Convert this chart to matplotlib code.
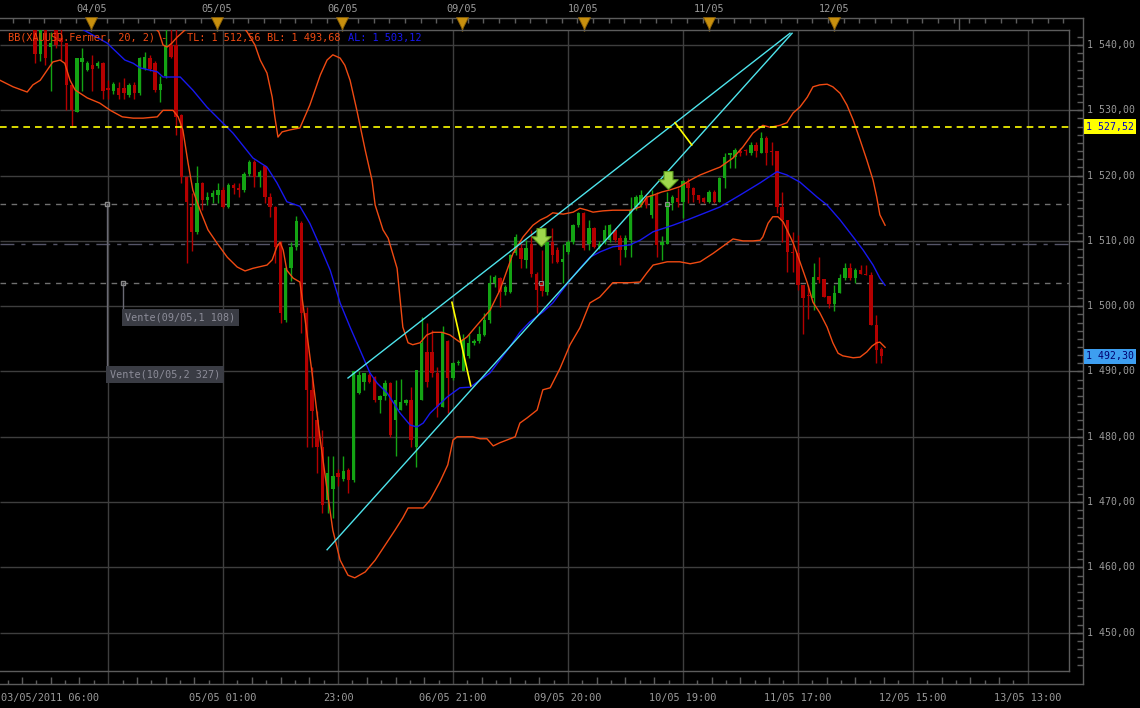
import numpy as np
import matplotlib
matplotlib.use("Agg")
import matplotlib.pyplot as plt
from matplotlib.path import Path

# hourly XAUUSD bars, candle index 0 = 03/05/2011 06:00 (bars before 7 are above the visible range)
first_idx = 7
opens = [
    1544.0, 1538.7, 1543.5, 1539.7, 1543.0, 1541.0, 1540.3, 1533.9, 1529.8, 1537.4,
    1536.2, 1537.0, 1536.8, 1537.2, 1533.4, 1532.9, 1533.4, 1533.4, 1532.3, 1533.9,
    1532.6, 1536.4, 1538.0, 1537.2, 1533.1, 1535.2, 1540.0, 1540.0, 1529.3, 1519.8,
    1515.2, 1511.4, 1518.8, 1516.3, 1516.8, 1517.0, 1517.8, 1515.2, 1518.6, 1518.1,
    1517.8, 1520.3, 1522.1, 1519.8, 1521.4, 1516.8, 1515.2, 1509.6, 1497.9, 1505.8,
    1509.0, 1512.7, 1498.9, 1487.2, 1482.6, 1478.5, 1470.3, 1472.0, 1474.4, 1473.6,
    1474.9, 1473.4, 1486.7, 1488.4, 1489.5, 1489.2, 1485.6, 1486.2, 1488.2, 1482.6,
    1484.1, 1485.1, 1485.6, 1478.5, 1485.6, 1493.0, 1493.0, 1489.7, 1484.6, 1494.6,
    1489.0, 1491.3, 1490.0, 1492.3, 1494.3, 1494.6, 1495.6, 1497.9, 1503.5, 1504.3,
    1502.2, 1502.2, 1508.1, 1508.9, 1507.1, 1509.6, 1505.0, 1503.5, 1502.2, 1509.9,
    1508.6, 1506.8, 1508.3, 1509.9, 1512.4, 1514.2, 1509.6, 1511.9, 1509.1, 1509.9,
    1510.1, 1511.7, 1510.4, 1508.6, 1510.1, 1515.2, 1515.5, 1516.5, 1514.0, 1517.0,
    1509.4, 1509.6, 1515.8, 1516.5, 1516.0, 1518.8, 1518.1, 1517.0, 1516.5, 1516.0,
    1517.5, 1516.0, 1519.6, 1523.2, 1522.9, 1523.8, 1523.9, 1523.4, 1524.7, 1523.4,
    1525.7, 1523.8, 1523.7, 1515.2, 1513.2, 1508.3, 1508.1, 1503.2, 1501.7, 1501.2,
    1504.5, 1504.1, 1501.5, 1500.4, 1502.0, 1504.3, 1505.8, 1504.3, 1505.6, 1505.0,
    1504.8, 1497.1, 1493.4]
highs = [
    1545.0, 1545.0, 1545.0, 1542.0, 1544.0, 1543.0, 1540.3, 1534.0, 1538.0, 1539.5,
    1537.5, 1538.5, 1537.5, 1537.4, 1534.6, 1534.3, 1534.4, 1534.9, 1534.2, 1534.4,
    1538.2, 1539.0, 1538.5, 1537.5, 1535.2, 1543.0, 1543.0, 1542.5, 1529.5, 1520.0,
    1517.3, 1521.4, 1519.0, 1517.5, 1517.8, 1518.8, 1518.2, 1518.8, 1518.8, 1518.8,
    1520.5, 1522.4, 1522.4, 1520.8, 1521.6, 1517.3, 1515.4, 1510.0, 1506.0, 1509.8,
    1513.8, 1513.0, 1499.9, 1490.7, 1484.0, 1481.0, 1477.0, 1477.0, 1475.0, 1477.0,
    1475.2, 1490.0, 1490.0, 1489.8, 1489.7, 1489.3, 1486.4, 1488.7, 1488.4, 1488.7,
    1488.9, 1485.8, 1487.7, 1490.2, 1498.4, 1497.4, 1496.4, 1490.7, 1496.9, 1494.8,
    1491.5, 1491.7, 1495.8, 1495.8, 1495.0, 1496.9, 1498.9, 1504.8, 1504.8, 1504.5,
    1503.2, 1508.0, 1511.1, 1509.6, 1510.1, 1511.6, 1505.2, 1508.6, 1509.9, 1511.9,
    1509.0, 1509.6, 1510.1, 1512.6, 1514.4, 1514.4, 1513.2, 1512.2, 1510.0, 1512.4,
    1512.6, 1512.0, 1510.9, 1510.9, 1516.8, 1517.0, 1517.8, 1517.0, 1517.8, 1517.5,
    1510.7, 1517.5, 1517.0, 1518.1, 1519.3, 1519.6, 1518.3, 1517.0, 1516.8, 1517.8,
    1517.8, 1519.8, 1523.4, 1523.4, 1524.2, 1524.2, 1524.0, 1525.2, 1525.2, 1526.7,
    1526.0, 1525.2, 1523.7, 1517.5, 1513.2, 1511.4, 1510.9, 1503.2, 1503.2, 1506.6,
    1507.6, 1504.1, 1501.5, 1503.2, 1505.0, 1506.6, 1506.6, 1505.8, 1506.3, 1506.3,
    1505.3, 1498.6, 1493.8]
lows = [
    1537.2, 1537.5, 1537.0, 1532.9, 1539.5, 1537.7, 1530.0, 1527.5, 1529.8, 1532.9,
    1536.0, 1532.9, 1536.5, 1531.8, 1531.8, 1532.5, 1531.8, 1531.8, 1532.0, 1531.8,
    1532.3, 1536.2, 1536.0, 1532.8, 1531.3, 1535.0, 1538.0, 1526.2, 1518.8, 1506.6,
    1508.4, 1511.0, 1514.7, 1515.5, 1515.8, 1515.8, 1515.0, 1515.0, 1517.2, 1516.8,
    1517.5, 1520.0, 1518.3, 1518.3, 1515.8, 1513.7, 1506.6, 1497.4, 1497.6, 1503.8,
    1508.6, 1495.9, 1478.5, 1478.5, 1474.4, 1468.3, 1468.3, 1467.5, 1472.5, 1473.3,
    1471.4, 1473.0, 1486.5, 1487.2, 1488.2, 1485.4, 1483.6, 1485.6, 1480.0, 1477.0,
    1484.1, 1484.8, 1478.5, 1475.4, 1485.6, 1487.7, 1489.2, 1483.1, 1484.6, 1483.6,
    1488.7, 1491.0, 1490.0, 1492.0, 1494.0, 1494.3, 1495.4, 1497.4, 1503.0, 1499.9,
    1501.7, 1502.0, 1507.8, 1505.8, 1505.8, 1504.5, 1498.9, 1501.5, 1501.7, 1506.6,
    1506.6, 1503.5, 1508.0, 1509.6, 1512.2, 1508.6, 1508.6, 1508.9, 1508.8, 1509.6,
    1509.9, 1509.9, 1506.3, 1507.6, 1507.6, 1514.7, 1515.2, 1515.0, 1513.5, 1507.6,
    1507.1, 1509.6, 1514.7, 1515.2, 1513.5, 1515.8, 1516.0, 1515.8, 1515.8, 1515.8,
    1515.8, 1516.0, 1518.1, 1521.1, 1521.1, 1523.0, 1523.2, 1523.2, 1522.9, 1523.4,
    1521.6, 1521.6, 1514.2, 1509.9, 1505.3, 1505.3, 1502.5, 1495.8, 1498.1, 1499.4,
    1503.5, 1501.4, 1499.7, 1499.2, 1502.0, 1504.0, 1504.0, 1503.5, 1504.9, 1504.8,
    1497.1, 1491.3, 1491.3]
closes = [
    1538.7, 1543.5, 1538.0, 1540.3, 1540.0, 1540.5, 1533.9, 1530.0, 1538.0, 1538.0,
    1537.2, 1536.3, 1537.3, 1532.9, 1533.1, 1534.1, 1532.3, 1532.6, 1533.9, 1532.6,
    1538.0, 1538.2, 1536.4, 1533.1, 1534.1, 1540.0, 1538.2, 1529.0, 1519.8, 1516.0,
    1511.4, 1518.8, 1516.3, 1516.8, 1517.3, 1517.8, 1515.2, 1518.6, 1518.1, 1517.8,
    1520.3, 1522.1, 1519.8, 1520.6, 1516.8, 1515.2, 1509.1, 1498.9, 1505.8, 1509.0,
    1513.0, 1498.9, 1487.2, 1484.0, 1478.5, 1469.6, 1474.4, 1474.0, 1473.9, 1474.7,
    1473.4, 1490.0, 1489.5, 1489.7, 1488.4, 1485.6, 1486.2, 1488.2, 1480.3, 1485.6,
    1485.4, 1485.6, 1479.5, 1490.2, 1494.3, 1488.4, 1489.7, 1484.6, 1496.1, 1489.0,
    1491.3, 1491.5, 1495.0, 1494.3, 1494.6, 1495.8, 1497.9, 1503.5, 1504.5, 1502.2,
    1503.0, 1507.8, 1510.6, 1507.3, 1508.9, 1505.0, 1502.5, 1502.3, 1509.9, 1507.8,
    1506.8, 1507.3, 1509.9, 1512.4, 1514.2, 1508.9, 1511.9, 1509.1, 1509.6, 1511.7,
    1512.4, 1510.1, 1508.6, 1510.4, 1514.7, 1516.8, 1517.0, 1515.5, 1517.0, 1509.4,
    1509.9, 1516.0, 1516.8, 1516.0, 1519.1, 1518.1, 1517.0, 1516.3, 1516.0, 1517.5,
    1516.0, 1519.6, 1522.9, 1523.4, 1523.9, 1523.5, 1523.7, 1524.7, 1523.7, 1525.7,
    1523.4, 1523.6, 1515.2, 1513.2, 1508.3, 1508.1, 1503.2, 1501.2, 1501.5, 1504.5,
    1504.0, 1501.4, 1500.4, 1502.0, 1504.3, 1505.8, 1504.3, 1505.6, 1504.9, 1504.8,
    1497.1, 1493.3, 1492.3]

# Bollinger bands (20, 2) as (candle index, price)
bb_top_left_x = [30.0, 30.7, 31.5, 32.3, 33.2, 34.2, 35.3, 36.1]
bb_top_left_y = [1542.6, 1542.0, 1540.0, 1539.7, 1540.3, 1541.2, 1542.0, 1542.6]
bb_top_x = [47.0, 47.6, 49.1, 50.1, 51.4, 52.4, 52.9, 53.5, 54.3, 55.8, 57.7, 59.6, 61.6, 62.9,
            64.0, 65.4, 66.3, 67.3, 68.6, 70.2, 71.5, 72.1, 73.6, 74.6, 76.3, 77.4, 78.4, 79.3,
            80.7, 82.0, 83.2, 84.9, 86.4, 88.3, 89.7, 91.6, 94.1, 96.0, 98.5, 100.4, 102.3, 103.7,
            105.0, 106.1, 108.1, 110.0, 111.3, 112.7, 113.8, 115.7, 117.6, 120.9, 122.8, 124.1,
            125.3, 127.0, 128.5, 130.4, 132.4, 134.3, 136.8, 138.1, 140.6, 142.5, 144.4, 146.3,
            147.7, 149.6, 150.9, 152.1, 153.4, 154.8, 155.9, 157.2, 158.6, 159.7, 161.1, 162.4,
            163.6, 164.9, 166.2, 167.4, 168.1, 168.7, 169.7]
bb_top_y = [1542.6, 1542.0, 1540.0, 1537.7, 1535.7, 1532.0, 1529.0, 1525.9, 1526.7, 1527.0,
            1527.3, 1530.8, 1535.4, 1537.7, 1538.5, 1538.0, 1536.9, 1534.6, 1530.0, 1523.9,
            1519.3, 1515.5, 1511.7, 1510.4, 1505.8, 1496.8, 1494.4, 1494.1, 1494.4, 1495.6,
            1496.0, 1496.0, 1495.6, 1494.5, 1495.3, 1497.1, 1499.4, 1502.5, 1508.1, 1510.6,
            1512.4, 1513.2, 1513.7, 1514.3, 1514.1, 1514.4, 1515.0, 1514.7, 1514.4, 1514.6,
            1514.7, 1514.7, 1515.2, 1516.7, 1517.0, 1517.5, 1517.8, 1518.3, 1519.3, 1520.1,
            1520.9, 1521.3, 1522.7, 1524.4, 1526.5, 1527.7, 1527.4, 1527.7, 1528.1, 1529.6,
            1530.5, 1532.0, 1533.6, 1533.9, 1534.0, 1533.6, 1532.6, 1530.8, 1528.5, 1525.5,
            1522.4, 1519.3, 1516.7, 1514.0, 1512.4]
bb_mid_x = [15.6, 17.0, 20.8, 24.2, 25.8, 27.1, 30.4, 31.5, 34.8, 37.2, 39.9, 44.9, 48.7, 51.4,
            53.3, 55.2, 57.7, 59.6, 61.6, 63.5, 65.4, 67.3, 69.2, 71.1, 72.5, 74.4, 76.9, 78.8,
            80.1, 81.3, 82.6, 83.9, 85.9, 88.3, 90.3, 92.2, 94.1, 96.0, 97.9, 99.8, 101.7, 104.2,
            106.1, 107.5, 109.4, 111.3, 113.2, 115.1, 117.6, 120.9, 122.8, 125.3, 129.1, 131.8,
            135.6, 138.1, 141.9, 145.8, 149.0, 150.9, 153.4, 156.7, 158.6, 161.1, 163.6, 165.5,
            167.4, 168.7, 169.7]
bb_mid_y = [1542.6, 1542.0, 1540.3, 1537.7, 1537.2, 1536.5, 1535.9, 1535.1, 1535.1, 1533.1,
            1530.5, 1526.5, 1522.7, 1521.3, 1518.9, 1516.0, 1515.3, 1512.7, 1509.1, 1505.5,
            1500.5, 1496.8, 1493.3, 1489.8, 1488.2, 1486.7, 1483.6, 1481.8, 1481.5, 1482.1,
            1483.6, 1484.6, 1486.1, 1487.5, 1487.6, 1488.7, 1489.8, 1491.8, 1493.8, 1496.0,
            1497.6, 1499.1, 1500.5, 1502.0, 1504.0, 1505.8, 1507.5, 1508.3, 1509.1, 1509.4,
            1510.1, 1511.4, 1512.4, 1513.2, 1514.4, 1515.2, 1517.0, 1518.9, 1520.6, 1520.1,
            1519.0, 1516.7, 1515.5, 1513.2, 1510.6, 1508.6, 1506.3, 1504.3, 1503.2]
bb_low_x = [0.3, 2.8, 5.5, 6.6, 8.0, 10.4, 11.8, 12.7, 13.7, 14.7, 17.0, 19.4, 21.4, 23.7, 25.8,
            27.7, 30.4, 31.5, 33.4, 34.4, 35.3, 36.3, 37.2, 38.6, 40.1, 41.8, 43.8, 45.7, 47.2,
            48.7, 51.4, 52.4, 53.3, 53.9, 54.5, 55.2, 56.4, 57.7, 58.7, 60.2, 61.6, 62.9, 64.0,
            65.4, 66.9, 68.2, 70.2, 72.1, 74.0, 75.9, 77.4, 78.4, 81.3, 82.6, 84.5, 86.0, 87.0,
            87.8, 90.8, 92.2, 93.5, 94.7, 96.0, 97.3, 98.9, 99.8, 101.2, 103.1, 104.2, 105.6,
            107.5, 109.4, 111.3, 113.2, 115.1, 117.6, 120.9, 122.8, 124.1, 125.3, 128.0, 130.4,
            132.4, 134.3, 136.8, 138.7, 140.6, 142.5, 144.4, 145.8, 146.3, 147.3, 148.2, 149.2,
            150.2, 151.1, 152.1, 153.4, 154.8, 155.9, 157.2, 158.6, 159.7, 160.7, 161.6, 163.6,
            164.9, 166.2, 167.2, 168.1, 168.7, 169.7]
bb_low_y = [1534.6, 1533.6, 1532.8, 1533.9, 1534.6, 1537.4, 1537.7, 1537.2, 1534.6, 1533.1,
            1531.9, 1531.1, 1530.0, 1529.0, 1528.8, 1528.8, 1529.0, 1530.0, 1530.0, 1529.0,
            1527.0, 1521.9, 1517.8, 1514.7, 1511.7, 1509.7, 1507.5, 1506.0, 1505.4, 1505.8,
            1506.3, 1507.1, 1509.1, 1509.8, 1508.6, 1505.5, 1504.3, 1503.7, 1497.9, 1488.7,
            1479.5, 1471.9, 1465.7, 1461.1, 1458.8, 1458.4, 1459.3, 1461.1, 1463.4, 1465.7,
            1467.6, 1469.1, 1469.1, 1470.3, 1473.1, 1475.7, 1479.5, 1480.0, 1480.0, 1479.7,
            1479.7, 1478.6, 1479.1, 1479.5, 1480.0, 1482.1, 1482.9, 1484.1, 1487.2, 1487.5,
            1490.5, 1494.1, 1496.7, 1500.5, 1501.4, 1503.6, 1503.6, 1503.7, 1505.1, 1506.3,
            1506.8, 1506.8, 1506.5, 1506.8, 1508.1, 1509.2, 1510.3, 1510.0, 1510.0, 1510.1,
            1510.6, 1512.7, 1513.7, 1513.7, 1512.9, 1511.4, 1509.7, 1506.8, 1503.6, 1500.6,
            1499.0, 1496.8, 1494.4, 1492.8, 1492.4, 1492.1, 1492.2, 1493.0, 1493.9, 1494.4,
            1494.5, 1493.7]
bb_tl, bb_bl, bb_al = 1512.56, 1493.68, 1503.12

# drawn objects: channel, yellow segments, sell signals, orders
chan_up_x, chan_up_y = [66.9, 151.5], [1489.0, 1541.8]
chan_lo_x, chan_lo_y = [62.9, 151.9], [1462.7, 1541.8]
yel_a_x, yel_a_y = [86.8, 90.4], [1500.6, 1487.8]
yel_b_x, yel_b_y = [129.5, 132.7], [1528.1, 1524.7]
signal_x, signal_y = [103.8, 128.1], [1510.6, 1519.3]
signal_dot_x, signal_dot_y = [103.8, 128.0], [1503.55, 1515.65]
take_profit = 1527.52
last_price = 1492.30
order_lines = [1515.65, 1509.50, 1503.55]
order_x = [20.8, 23.8]
order_y = [1515.65, 1503.55]
order_box_y = [1489.6, 1498.2]
order_text = ["Vente(10/05,2 327)", "Vente(09/05,1 108)"]

# axis labels
price_ticks = list(range(1450, 1541, 10))
grid_idx = [21, 43, 65, 87, 109, 131, 153, 175, 197]
grid_labels = ["", "05/05 01:00", "23:00", "06/05 21:00", "09/05 20:00",
               "10/05 19:00", "11/05 17:00", "12/05 15:00", "13/05 13:00"]
first_label = "03/05/2011 06:00"
day_idx = [17.8, 41.8, 65.8, 88.7, 112.0, 136.0, 159.9]
day_labels = ["04/05", "05/05", "06/05", "09/05", "10/05", "11/05", "12/05"]
next_day_idx = 183.8

ORANGE = "#f04a12"
BLUE = "#1818f0"
GREEN = "#14a414"
RED = "#b40000"
GRID = "#3e3e3e"
FRAME = "#5c5c5c"
TXT = "#9a9a9a"
MONO = "DejaVu Sans Mono"

W, H = 1140, 708
PL, PR, PT, PB = 0, 1069, 30, 671
fig = plt.figure(figsize=(W / 100, H / 100), dpi=100, facecolor="black")
ax = fig.add_axes([PL / W, 1 - PB / H, (PR - PL) / W, (PB - PT) / H], facecolor="black")
ax.set_xlim(0.3, 204.9)
ax.set_ylim(1444.13, 1542.30)
ax.set_xticks([])
ax.set_yticks([])
for s in ["top", "right", "bottom"]:
    ax.spines[s].set_color(FRAME)
    ax.spines[s].set_linewidth(1)
ax.spines["left"].set_visible(False)


def axx(px):
    return (px - PL) / (PR - PL)


def axy(py):
    return (PB - py) / (PB - PT)


def fr(v):
    return f"{v:,.2f}".replace(",", " ").replace(".", ",")


xt = ax.get_xaxis_transform()
yt = ax.get_yaxis_transform()

# grid
ax.hlines(price_ticks, 0.3, 204.9, color=GRID, lw=1, zorder=1)
ax.vlines(grid_idx, axy(684), 1, transform=xt, color=GRID, lw=1, zorder=1, clip_on=False)

# order / target lines
ax.axhline(order_lines[0], color="#707070", lw=1, ls=(0, (4, 4)), zorder=2)
ax.axhline(order_lines[1], color="#555568", lw=1, ls=(0, (10, 5, 3, 5)), zorder=2)
ax.axhline(order_lines[2], color="#707070", lw=1, ls=(0, (4, 4)), zorder=2)
ax.axhline(take_profit, color="#ffff00", lw=1.2, ls=(0, (4, 3)), zorder=6)

# candles
idx = np.arange(first_idx, first_idx + len(opens))
o, h, l, c = map(np.array, (opens, highs, lows, closes))
col = np.where(c >= o, GREEN, RED)
ax.vlines(idx, l, h, colors=col, lw=1, zorder=3)
ax.bar(idx, np.maximum(np.abs(c - o), 0.15), bottom=np.minimum(o, c), width=0.65,
       color=col, lw=0, zorder=3)

# bollinger bands
ax.plot(bb_top_left_x, bb_top_left_y, color=ORANGE, lw=1, zorder=4)
ax.plot(bb_top_x, bb_top_y, color=ORANGE, lw=1, zorder=4)
ax.plot(bb_low_x, bb_low_y, color=ORANGE, lw=1, zorder=4)
ax.plot(bb_mid_x, bb_mid_y, color=BLUE, lw=1, zorder=4)

# channel and yellow segments
ax.plot(chan_up_x, chan_up_y, color="#4ee4ec", lw=1, zorder=5)
ax.plot(chan_lo_x, chan_lo_y, color="#4ee4ec", lw=1, zorder=5)
ax.plot(yel_a_x, yel_a_y, color="#ffff00", lw=1.2, zorder=5)
ax.plot(yel_b_x, yel_b_y, color="#ffff00", lw=1.2, zorder=5)

# sell signal arrows
arrow = Path([(-0.3, 0.6), (0.3, 0.6), (0.3, 0.05), (0.65, 0.05), (0.0, -0.6),
              (-0.65, 0.05), (-0.3, 0.05), (-0.3, 0.6)], closed=True)
ax.plot(signal_x, signal_y, ls="none", marker=arrow, markersize=14,
        mfc="#9ed84c", mec="#5c9a1c", mew=0.8, zorder=7)
ax.plot(signal_dot_x, signal_dot_y, ls="none", marker="s", markersize=3,
        mfc="none", mec="#8a8a8a", mew=0.8, zorder=6)

# orders with their labels
for ox, oy, by, txt in zip(order_x, order_y, order_box_y, order_text):
    ax.plot([ox, ox], [oy, by], color="#6a6a74", lw=1, zorder=6)
    ax.plot([ox], [oy], ls="none", marker="s", markersize=3, mfc="none", mec="#8a8a8a", zorder=6)
    ax.text(ox + 0.5, by, txt, family=MONO, fontsize=7.3, color="#8c8c98", va="center",
            ha="left", zorder=8,
            bbox=dict(boxstyle="square,pad=0.35", fc="#3a3c44", ec="none"))

# indicator legend
legend_parts = [("BB(XAUUSD.Fermer, 20, 2) -", 8, ORANGE), ("TL: " + fr(bb_tl), 187, ORANGE),
                ("BL: " + fr(bb_bl), 267, ORANGE), ("AL: " + fr(bb_al), 348, BLUE)]
for txt, px, cl in legend_parts:
    ax.text(axx(px), axy(38), txt, transform=ax.transAxes, family=MONO, fontsize=7.4,
            color=cl, va="center", ha="left", zorder=9)

# right price axis
ax.plot([axx(1083), axx(1083)], [axy(18), axy(684)], transform=ax.transAxes,
        color=FRAME, lw=1, clip_on=False)
minor = np.arange(1445.0, 1542.3, 1.25)
ax.hlines(minor, axx(1077), axx(1083), transform=yt, color=FRAME, lw=1, clip_on=False)
ax.hlines(price_ticks, axx(PR), axx(1083), transform=yt, color=FRAME, lw=1, clip_on=False)
for v in price_ticks:
    ax.text(axx(1087), v, fr(v), transform=yt, family=MONO, fontsize=7.1, color=TXT,
            va="center", ha="left")
for v, fc, tc in [(take_profit, "#ffff00", "#0000c8"), (last_price, "#3d9ef0", "#00006e")]:
    ax.text(axx(1086), v, fr(v), transform=yt, family=MONO, fontsize=7.1, color=tc,
            va="center", ha="left", zorder=10,
            bbox=dict(boxstyle="square,pad=0.25", fc=fc, ec="none"))

# bottom time axis
ax.plot([0, axx(1083)], [axy(684), axy(684)], transform=ax.transAxes, color=FRAME, lw=1,
        clip_on=False)
for k, g in enumerate(grid_idx[:-1]):
    for j in range(1, 8):
        tx = g + j * (grid_idx[1] - grid_idx[0]) / 8
        ax.vlines(tx, axy(684), axy(680 if j % 2 else 677), transform=xt, color=FRAME,
                  lw=1, clip_on=False)
for j in range(1, 8):
    tx = grid_idx[0] - j * 22 / 8
    ax.vlines(tx, axy(684), axy(680 if j % 2 else 677), transform=xt, color=FRAME,
              lw=1, clip_on=False)
ax.text(axx(1), axy(698), first_label, transform=ax.transAxes, family=MONO, fontsize=7.4,
        color=TXT, va="center", ha="left")
for g, lab in zip(grid_idx, grid_labels):
    if lab:
        ax.text(g, axy(698), lab, transform=xt, family=MONO, fontsize=7.4, color=TXT,
                va="center", ha="center")

# top day axis
ax.plot([0, axx(1083)], [axy(18), axy(18)], transform=ax.transAxes, color=FRAME, lw=1,
        clip_on=False)
top_ticks = np.arange(day_idx[0] - 18, 205, 3)
ax.vlines(top_ticks, axy(23), axy(18), transform=xt, color=FRAME, lw=1, clip_on=False)
ax.vlines([next_day_idx], axy(30), axy(18), transform=xt, color=FRAME, lw=1, clip_on=False)
ax.vlines(day_idx, axy(31), axy(18), transform=xt, color="#c08a10", lw=1, clip_on=False)
ax.plot(day_idx, [axy(22.5)] * len(day_idx), transform=xt, ls="none", marker="v",
        markersize=8, mfc="#c8900e", mec="#8a6008", mew=0.6, clip_on=False)
for d, lab in zip(day_idx, day_labels):
    ax.text(d, axy(9), lab, transform=xt, family=MONO, fontsize=7.4, color=TXT,
            va="center", ha="center")

fig.savefig("out.png", dpi=100, facecolor="black")
